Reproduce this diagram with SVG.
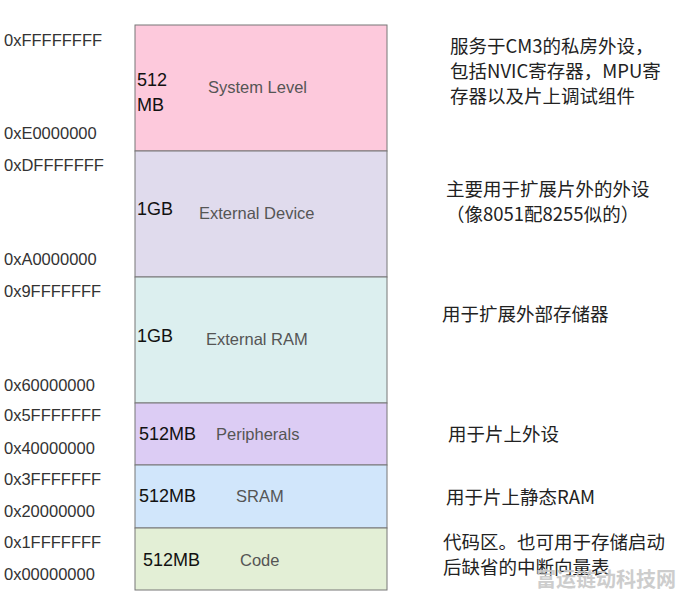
<svg xmlns="http://www.w3.org/2000/svg" width="685" height="596" viewBox="0 0 685 596">
<style>
.a{font-family:"Liberation Sans",Arial,sans-serif;font-size:16.5px;fill:#333}
.s{font-family:"Liberation Sans",Arial,sans-serif;font-size:18px;fill:#111}
.n{font-family:"Liberation Sans",Arial,sans-serif;font-size:16.5px;fill:#555}
.c{font-family:"Noto Sans CJK SC","Liberation Sans",sans-serif;font-size:18.5px;fill:#222}
rect{stroke:#777;stroke-width:1}
</style>
<rect width="685" height="596" fill="#fff" style="stroke:none"/>
<g id="system"><rect x="135" y="25" width="252" height="126" fill="#fdc9dc"/><text class="s" x="137" y="86">512</text><text class="s" x="137" y="111">MB</text><text class="n" x="208" y="93">System Level</text></g>
<g id="extdev"><rect x="135" y="151" width="252" height="126" fill="#e0dbed"/><text class="s" x="137" y="215">1GB</text><text class="n" x="199" y="219">External Device</text></g>
<g id="extram"><rect x="135" y="277" width="252" height="126" fill="#dcefef"/><text class="s" x="137" y="342">1GB</text><text class="n" x="206" y="345">External RAM</text></g>
<g id="periph"><rect x="135" y="403" width="252" height="62" fill="#dcccf4"/><text class="s" x="139" y="440">512MB</text><text class="n" x="216" y="440">Peripherals</text></g>
<g id="sram"><rect x="135" y="465" width="252" height="63" fill="#d1e6fb"/><text class="s" x="139" y="502">512MB</text><text class="n" x="236" y="502">SRAM</text></g>
<g id="code"><rect x="135" y="528" width="252" height="62" fill="#e3efd6"/><text class="s" x="143" y="566">512MB</text><text class="n" x="240" y="566">Code</text></g>
<g id="addr">
<text class="a" x="4" y="46">0xFFFFFFFF</text><text class="a" x="4" y="139">0xE0000000</text>
<text class="a" x="4" y="171">0xDFFFFFFF</text><text class="a" x="4" y="265">0xA0000000</text>
<text class="a" x="4" y="297">0x9FFFFFFF</text><text class="a" x="4" y="391">0x60000000</text>
<text class="a" x="4" y="421">0x5FFFFFFF</text><text class="a" x="4" y="454">0x40000000</text>
<text class="a" x="4" y="485">0x3FFFFFFF</text><text class="a" x="4" y="517">0x20000000</text>
<text class="a" x="4" y="548">0x1FFFFFFF</text><text class="a" x="4" y="580">0x00000000</text>
</g>
<g id="notes">
<text class="c" x="450" y="53">服务于CM3的私房外设，</text>
<text class="c" x="450" y="78">包括NVIC寄存器，MPU寄</text>
<text class="c" x="450" y="103">存器以及片上调试组件</text>
<text class="c" x="446" y="196">主要用于扩展片外的外设</text>
<text class="c" x="446" y="221">（像8051配8255似的）</text>
<text class="c" x="442" y="321">用于扩展外部存储器</text>
<text class="c" x="448" y="441">用于片上外设</text>
<text class="c" x="446" y="504">用于片上静态RAM</text>
<text class="c" x="443" y="549">代码区。也可用于存储启动</text>
<text class="c" x="443" y="574">后缺省的中断向量表</text>
</g>
<g id="watermark">
<text x="536" y="587" style="font-family:'Noto Sans CJK SC',sans-serif;font-size:20px;font-weight:bold;fill:#c8c8c8;opacity:0.9">富运链动科技网</text>
</g>
</svg>
